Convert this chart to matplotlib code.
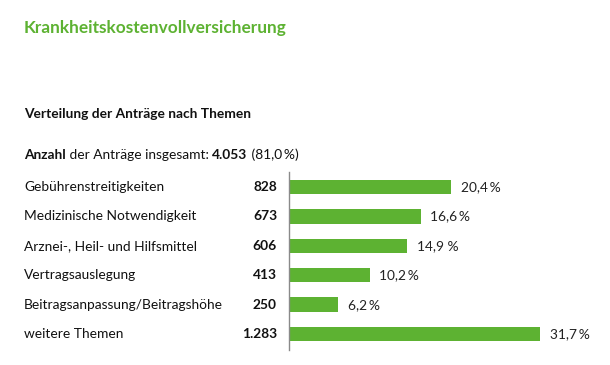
import matplotlib.pyplot as plt
from matplotlib.transforms import blended_transform_factory

## Data ##
themen = [ "Gebührenstreitigkeiten", "Medizinische Notwendigkeit",
           "Arznei-, Heil- und Hilfsmittel", "Vertragsauslegung",
           "Beitragsanpassung/Beitragshöhe", "weitere Themen" ]
anzahl = [ 828, 673, 606, 413, 250, 1283 ]
anzahl_text = [ "828", "673", "606", "413", "250", "1.283" ]
anteil_text = [ "20,4\u2009%", "16,6\u2009%", "14,9 %", "10,2\u2009%", "6,2\u2009%", "31,7\u2009%" ]

green = "#5db232"
plt.rcParams[ "font.family" ] = [ "Lato", "DejaVu Sans" ]

W, H = 610, 365
fig = plt.figure( figsize=( W / 100, H / 100 ), dpi=100 )

def fx( px ):
    return px / W

def fy( py ):
    return 1 - py / H

fs = 9.9
fig.text( fx( 24 ), fy( 28 ), "Krankheitskostenvollversicherung", color=green,
          fontsize=12.4, fontweight="bold", va="center" )
fig.text( fx( 24 ), fy( 114 ), "Verteilung der Anträge nach Themen", color="#111111",
          fontsize=fs, fontweight="bold", va="center" )

# subtitle line with mixed weights
t1 = fig.text( fx( 24 ), fy( 155 ), "Anzahl", fontsize=fs, fontweight="bold",
               va="center", color="#111111" )
fig.canvas.draw()
r = fig.canvas.get_renderer()
x = t1.get_window_extent( r ).x1
t2 = fig.text( x / W, fy( 155 ), " der Anträge insgesamt: ", fontsize=fs,
               va="center", color="#111111" )
x = t2.get_window_extent( r ).x1
t3 = fig.text( x / W, fy( 155 ), "4.053", fontsize=fs, fontweight="bold",
               va="center", color="#111111" )
x = t3.get_window_extent( r ).x1
fig.text( x / W, fy( 155 ), " (81,0\u2009%)", fontsize=fs, va="center", color="#111111" )

# bar area
left, right = 289, 600
ax = fig.add_axes( [ fx( left ), fy( 350 ), fx( right - left ), ( 350 - 172 ) / H ] )
pos = list( range( len( themen ) ) )
ax.barh( pos, anzahl, height=0.49, color=green, zorder=2 )
ax.set_xlim( 0, ( right - left ) / 0.1955 )
ax.set_ylim( 5.54, -0.51 )
for s in [ "top", "right", "bottom" ]:
    ax.spines[ s ].set_visible( False )
ax.spines[ "left" ].set_color( "#8a8a8a" )
ax.spines[ "left" ].set_linewidth( 1.0 )
ax.set_xticks( [] )
ax.set_yticks( [] )

trans = blended_transform_factory( fig.transFigure, ax.transData )
for i in pos:
    ax.text( fx( 24 ), i, themen[ i ], transform=trans, fontsize=fs,
             va="center", ha="left", color="#111111" )
    ax.text( fx( 277 ), i, anzahl_text[ i ], transform=trans, fontsize=fs,
             fontweight="bold", va="center", ha="right", color="#111111" )
    ax.annotate( anteil_text[ i ], ( anzahl[ i ], i ), xytext=( 7, 0 ),
                 textcoords="offset points", fontsize=fs, va="center",
                 ha="left", color="#222222" )

fig.savefig( "out.png", dpi=100 )
